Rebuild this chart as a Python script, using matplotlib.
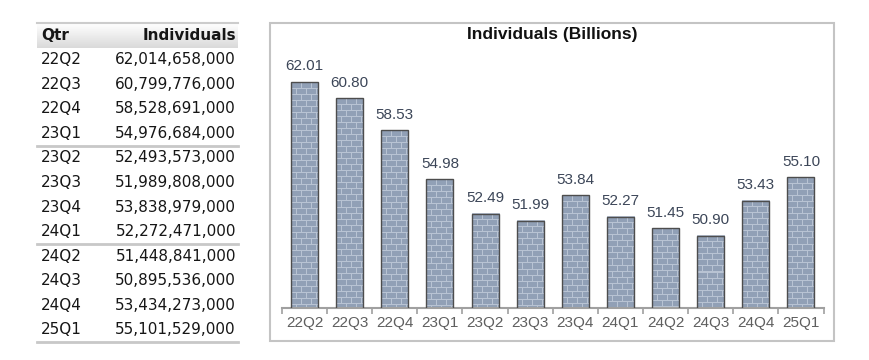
import numpy as np
import matplotlib.pyplot as plt
from matplotlib.patches import Rectangle
from matplotlib.colors import LinearSegmentedColormap

plt.rcParams['font.family'] = ['Liberation Sans', 'DejaVu Sans']

# datos
quarters = ['22Q2', '22Q3', '22Q4', '23Q1', '23Q2', '23Q3',
            '23Q4', '24Q1', '24Q2', '24Q3', '24Q4', '25Q1']
individuals = [62014658000, 60799776000, 58528691000, 54976684000,
               52493573000, 51989808000, 53838979000, 52272471000,
               51448841000, 50895536000, 53434273000, 55101529000]
billions = [round(v / 1e9, 2) for v in individuals]

W, H = 870, 360
fig = plt.figure(figsize=(W / 100, H / 100), dpi=100)


def px_axes(x0, y0, x1, y1):
    return fig.add_axes([x0 / W, 1 - y1 / H, (x1 - x0) / W, (y1 - y0) / H])


# ---- tabla de la izquierda ----
tab = px_axes(37, 23, 238, 342)
n = len(quarters)
tab.set_xlim(0, 1)
tab.set_ylim(n + 1, 0)
tab.axis('off')

grad = LinearSegmentedColormap.from_list('hdr', ['#ffffff', '#dadada'])
tab.imshow(np.linspace(0, 1, 30).reshape(-1, 1), cmap=grad,
           extent=(0, 1, 1, 0), aspect='auto', zorder=0)
tab.axhline(0, color='#cccccc', lw=1.5, clip_on=False)
for yy in (5, 9, n + 1):
    tab.axhline(yy, color='#c8c8c8', lw=2, clip_on=False)

tfont = dict(family='DejaVu Sans', fontsize=11, color='#161616', va='center')
tab.text(0.02, 0.5, 'Qtr', ha='left', fontweight='bold', **tfont)
tab.text(0.99, 0.5, 'Individuals', ha='right', fontweight='bold', **tfont)
for i, (q, v) in enumerate(zip(quarters, individuals)):
    tab.text(0.02, i + 1.5, q, ha='left', **tfont)
    tab.text(0.99, i + 1.5, f'{v:,}', ha='right', **tfont)

# ---- grafico de barras ----
ymin, ymax = 45.7, 64.3
ax = px_axes(282, 50, 823.5, 307.7)
x = np.arange(n)
ax.set_xlim(-0.5, n - 0.5)
ax.set_ylim(ymin, ymax)

bars = ax.bar(x, billions, width=0.6, facecolor='none',
              edgecolor='#4d4d4d', lw=1, zorder=3)

# textura de ladrillos
scale = 257.7 / (ymax - ymin)
brick = np.array([145, 160, 182]) / 255
mortar = np.array([184, 195, 211]) / 255
for b in bars:
    hpx = int(round((b.get_height() - ymin) * scale))
    wpx = 28
    tex = np.zeros((hpx, wpx, 3))
    for r in range(hpx):
        for c in range(wpx):
            off = 5 if (r // 6) % 2 else 0
            if r % 6 == 0 or (c + off) % 10 == 0:
                tex[r, c] = mortar
            else:
                tex[r, c] = brick
    ax.imshow(tex, extent=(b.get_x(), b.get_x() + b.get_width(), ymin, b.get_height()),
              aspect='auto', interpolation='nearest', zorder=2)

for i, v in enumerate(billions):
    ax.annotate(f'{v:.2f}', (i, v), xytext=(0, 11), textcoords='offset points',
                ha='center', va='center', fontsize=11, color='#3c4658')

for s in ['top', 'right', 'left']:
    ax.spines[s].set_visible(False)
ax.spines['bottom'].set_color('#a0a0a0')
ax.spines['bottom'].set_linewidth(1.5)
ax.set_yticks([])
ax.set_xticks(x)
ax.set_xticklabels(quarters, fontsize=11, color='#5f5f5f')
ax.set_xticks(np.arange(-0.5, n, 1), minor=True)
ax.tick_params(axis='x', which='major', length=0, pad=6)
ax.tick_params(axis='x', which='minor', length=4, color='#a0a0a0', width=1.2)

fig.text(552 / W, 1 - 35 / H, 'Individuals (Billions)', ha='center', va='center',
         fontweight='bold', fontsize=12.5, color='#111111')

fig.patches.append(Rectangle((270 / W, 1 - 341 / H), (834 - 270) / W, (341 - 23) / H,
                             transform=fig.transFigure, fill=False,
                             edgecolor='#c4c4c4', lw=1.5))

plt.savefig('out.png', dpi=100)
